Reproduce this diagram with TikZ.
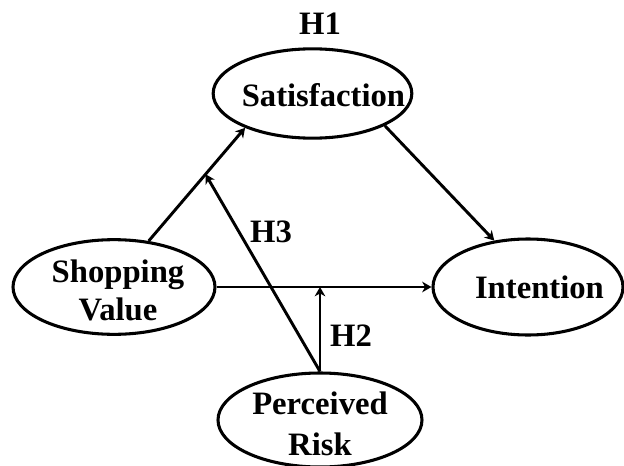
\documentclass[tikz,border=0pt]{standalone}
\usepackage{fontspec}
\setmainfont{Liberation Serif}
\usetikzlibrary{arrows.meta,shapes.geometric}

\begin{document}
\begin{tikzpicture}[
  x=0.75pt, y=0.75pt,
  every node/.style={font=\bfseries\fontsize{24.5}{29}\selectfont},
  construct/.style={ellipse, draw, line width=2.3pt, inner sep=0pt},
  constructText/.style={align=center, inner sep=0pt},
  path/.style={line width=2.2pt,
    -{Stealth[length=7pt, width=8pt, inset=2.2pt]}},
  hypo/.style={inner sep=0pt}
]
\useasboundingbox (0,0) rectangle (624,465);

% Constructs of the research model.
\node[construct, minimum width=149pt, minimum height=67pt,
  label={[constructText, xshift=8.2pt, yshift=-1pt]center:Satisfaction}]
  (sat) at (312.5,371.5) {};
\node[construct, minimum width=151.5pt, minimum height=71pt,
  label={[constructText, xshift=3pt, yshift=-2.5pt]center:Shopping\\Value}]
  (shop) at (114,178) {};
\node[construct, minimum width=142.5pt, minimum height=72pt,
  label={[constructText, xshift=8.6pt]center:Intention}]
  (intent) at (528,178) {};
\node[construct, minimum width=153pt, minimum height=70.5pt,
  label={[constructText, yshift=-3pt,
    font=\bfseries\fontsize{24.5}{30.5}\selectfont]center:Perceived\\Risk}]
  (risk) at (320,45) {};

% Hypothesised paths.
\draw[path] (shop.53) -- coordinate[pos=0.59] (h3) (sat.207);
\draw[path] (sat.336) -- (intent.126);
\draw[path] (shop.east) -- (intent.west);
\coordinate (h2) at (risk.north |- shop.east);
\draw[path] (risk.north) -- (h2);
\draw[path] (risk.north) -- (h3);

\node[hypo] (h1lab) at (320,441) {H1};
\node[hypo] (h3lab) at (271,233) {H3};
\node[hypo] (h2lab) at (351,129) {H2};
\end{tikzpicture}
\end{document}
